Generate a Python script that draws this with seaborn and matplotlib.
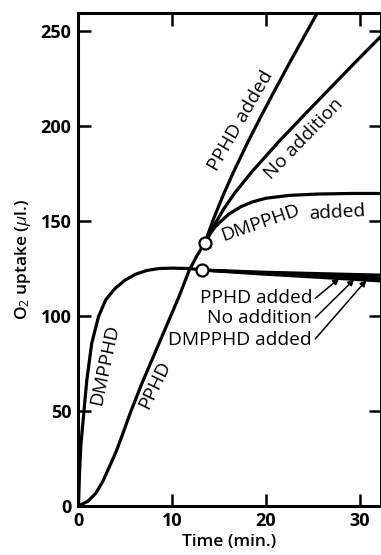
import numpy as np
import pandas as pd
import matplotlib
matplotlib.use("Agg")
import matplotlib.pyplot as plt
import seaborn as sns

# O2 uptake (ul) against time (min)
pphd_t = [0, 1.0, 1.85, 2.6, 3.3, 4.0, 4.5, 5.6, 6.8, 8.1, 9.4, 10.7, 11.8, 12.6, 13.45]
pphd_y = [0, 2.5, 6.7, 13, 20.7, 28.5, 35, 50, 65, 80, 95, 110, 124, 131.5, 138.3]

dmpphd_t = [0, 0.1, 0.25, 0.53, 0.88, 1.41, 2.13, 2.9, 3.9, 5.0, 6.1, 7.3, 8.6, 10, 11.8, 13.2]
dmpphd_y = [0, 16, 32, 47, 66, 85.6, 99.6, 108.5, 114.5, 119, 122, 124, 125, 125.2, 125, 124.2]

# branches after the additions on the PPHD curve (upper circle)
up_pphd_t = [13.45, 14.4, 15.4, 16.5, 18, 19.5, 21, 22.5, 24, 25.5]
up_pphd_y = [138.3, 151.1, 163.3, 175.5, 191, 205.5, 219.5, 233.2, 246.6, 259.9]
up_none_t = [13.45, 14.5, 15.5, 16.7, 18.5, 21.4, 24, 26.75, 29.5, 32.2]
up_none_y = [138.3, 148, 156.5, 165, 176, 192, 205.5, 219.5, 233.5, 247]
up_dmpphd_t = [13.45, 14, 14.5, 15.1, 16, 17.3, 18.5, 20, 22.5, 25.5, 29, 32.2]
up_dmpphd_y = [138.3, 143, 146.5, 149.5, 153.5, 157.5, 160, 162, 163.5, 164.2, 164.5, 164.5]

# branches after the additions on the DMPPHD curve (lower circle)
lo_t = [13.2, 20, 32.2]
lo_pphd_y = [124.2, 123, 121.5]
lo_none_y = [124.2, 122.5, 120]
lo_dmpphd_y = [124.2, 122, 118.5]

circle_t = [13.45, 13.2]
circle_y = [138.3, 124.2]

sns.set_style("ticks")
plt.rcParams['font.family'] = ['Open Sans', 'DejaVu Sans']
plt.rcParams['mathtext.fontset'] = 'custom'
plt.rcParams['mathtext.rm'] = 'Open Sans'
plt.rcParams['mathtext.it'] = 'Open Sans:italic'
for k in ['text.color', 'axes.labelcolor', 'xtick.color', 'ytick.color', 'axes.edgecolor']:
    plt.rcParams[k] = 'black'

fig = plt.figure(figsize=(3.81, 5.55), dpi=100)
ax = fig.add_axes([0.206, 0.0883, 0.7927, 0.8883])

lw = 2.3
series = [(pphd_t, pphd_y), (dmpphd_t, dmpphd_y),
          (up_pphd_t, up_pphd_y), (up_none_t, up_none_y), (up_dmpphd_t, up_dmpphd_y),
          (lo_t, lo_pphd_y), (lo_t, lo_none_y), (lo_t, lo_dmpphd_y)]
for t, y in series:
    sns.lineplot(x=t, y=y, ax=ax, color="black", lw=lw, estimator=None, sort=False)

sns.scatterplot(x=circle_t, y=circle_y, ax=ax, s=75, color="white",
                edgecolor="black", linewidth=1.6, zorder=5)

ax.set_xlim(0, 32.2)
ax.set_ylim(0, 259.5)
ax.set_xticks([0, 10, 20, 30])
ax.set_yticks([0, 50, 100, 150, 200, 250])
for s in ax.spines.values():
    s.set_visible(True)
    s.set_linewidth(2.2)
ax.tick_params(direction="in", length=9, width=1.8, top=True, right=True,
               labelsize=13)
ax.tick_params(axis="x", pad=4.5)
ax.tick_params(axis="y", pad=5)
for lab in ax.get_xticklabels() + ax.get_yticklabels():
    lab.set_fontweight("bold")

ax.set_xlabel("Time (min.)", fontsize=12.5, fontweight="semibold")
ax.set_ylabel(r"O$_2$ uptake ($\mu$l.)", fontsize=12.5, fontweight="semibold")
ax.xaxis.set_label_coords(0.5, -0.056)
ax.yaxis.set_label_coords(-0.15, 0.5)

fs = 13.8
ax.text(2.75, 74.5, "DMPPHD", rotation=78, fontsize=fs, ha="center", va="center")
ax.text(8.1, 64, "PPHD", rotation=64, fontsize=fs, ha="center", va="center")
ax.text(17.35, 203, "PPHD added", rotation=60, fontsize=fs, ha="center", va="center")
ax.text(24.0, 193.3, "No addition", rotation=46, fontsize=fs, ha="center", va="center")
ax.text(19.4, 149, "DMPPHD", rotation=19, fontsize=fs, ha="center", va="center")
ax.text(27.6, 154.3, "added", rotation=3, fontsize=fs, ha="center", va="center")

arrow = dict(arrowstyle="-|>", color="black", lw=1.1, mutation_scale=9,
             shrinkA=0, shrinkB=0, relpos=(1, 0.35))
ax.annotate("PPHD added", xy=(27.8, 119.8), xytext=(24.9, 109.3), fontsize=fs,
            ha="right", va="center", arrowprops=arrow)
ax.annotate("No addition", xy=(29.4, 119.3), xytext=(24.9, 98.8), fontsize=fs,
            ha="right", va="center", arrowprops=arrow)
ax.annotate("DMPPHD added", xy=(30.7, 118.9), xytext=(24.9, 87.4), fontsize=fs,
            ha="right", va="center", arrowprops=arrow)

fig.savefig("out.png", dpi=100)
